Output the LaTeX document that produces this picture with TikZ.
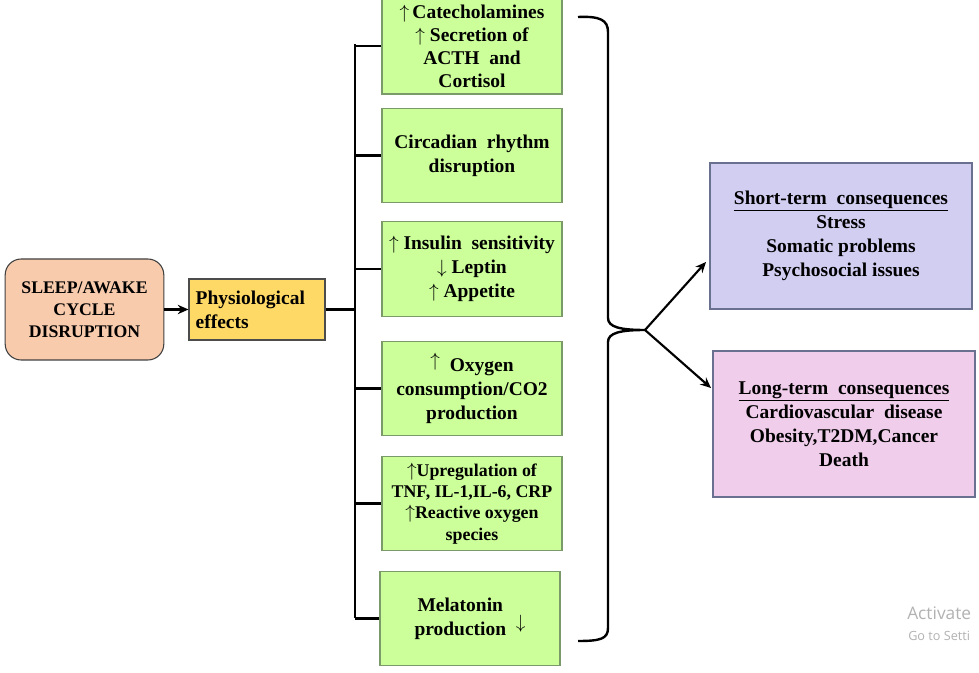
\documentclass[tikz,border=0pt]{standalone}
\usepackage{fontspec}
\setmainfont{Liberation Serif}
\newfontfamily\wmfont{Open Sans}
\usetikzlibrary{arrows.meta}
\definecolor{peach}{HTML}{F8CBAD}
\definecolor{physyel}{HTML}{FFD966}
\definecolor{lgreen}{HTML}{CCFF99}
\definecolor{gborder}{HTML}{7A9A6A}
\definecolor{lav}{HTML}{D2CEF2}
\definecolor{pinkc}{HTML}{F0CDEB}
\definecolor{rborder}{HTML}{6A7090}
\newcommand{\myup}{$\uparrow$}
\newcommand{\mydown}{$\downarrow$}
\tikzset{
  txt/.style={font=\bfseries\fontsize{14.6}{18}\selectfont, align=center},
  greenbox/.style={txt, draw=gborder, line width=0.8pt, fill=lgreen, minimum width=135pt, minimum height=71pt, inner sep=2pt},
  sleepbox/.style={draw=black!75, line width=0.8pt, fill=peach, rounded corners=12pt, minimum width=119pt, minimum height=75.75pt, align=center, font=\bfseries\fontsize{13.3}{16.5}\selectfont},
  physbox/.style={draw=black!70, line width=0.8pt, fill=physyel, minimum width=102pt, minimum height=45.75pt, text width=92pt, align=left, font=\bfseries\fontsize{14.6}{18}\selectfont},
  resbox/.style={txt, draw=rborder, line width=0.8pt, minimum width=196.5pt, minimum height=109.5pt},
  bus/.style={line width=1.6pt, black},
  arr/.style={line width=1.6pt, -{Stealth[length=8pt,width=7pt]}}
}
\begin{document}
\begin{tikzpicture}[x=0.75pt,y=-0.75pt]
\clip (0,0) rectangle (979,673);
\fill[white] (0,0) rectangle (979,673);

\node[sleepbox] (sleep) at (84.5,309.5) {SLEEP/AWAKE\\CYCLE\\DISRUPTION};
\node[physbox] (phys) at (257,309.5) {Physiological\\effects};

\node[greenbox, minimum height=72pt, font=\bfseries\fontsize{14.6}{17.2}\selectfont] (g1) at (472,46) {\myup\,Catecholamines\\\myup\ Secretion of\\ACTH\ \ and\\Cortisol};
\node[greenbox] (g2) at (472,155.5) {Circadian\ \ rhythm\\disruption};
\node[greenbox] (g3) at (472,269) {\myup\ Insulin\ \ sensitivity\\\mydown\ Leptin\\\myup\ Appetite};
\node[greenbox] (g4) at (472,388.5) {\raisebox{4pt}{\myup}\ \ Oxygen\\consumption/CO2\\production};
\node[greenbox, font=\bfseries\fontsize{13.4}{16}\selectfont] (g5) at (472,503.5) {\myup Upregulation of\\TNF, IL-1,IL-6, CRP\\\myup Reactive oxygen\\species};
\node[greenbox] (g6) at (470,618.5) {Melatonin\ \ \ \ \ \\production\ \ \raisebox{5pt}{\mydown}};

\coordinate (bt) at (355,44);
\coordinate (bb) at (355,618.5);
\draw[arr] (sleep.east) -- (phys.west);
\draw[bus] (bt) -- (bb);
\draw[bus] (phys.east) -- (phys.east -| bt);
\foreach \g in {g1,g2,g3,g4,g5,g6} {\draw[bus] (\g.west -| bt) -- (\g.west);}

% brace
\coordinate (tip) at (645,330);
\draw[line width=1.8pt] (578,17) .. controls (600,16) and (608,20) .. (608,32) -- (608,318)
  .. controls (608,327) and (620,330) .. (tip)
  .. controls (620,330) and (608,333) .. (608,342) -- (608,628)
  .. controls (608,639) and (600,641) .. (578,641);

\node[resbox, fill=lav] (short) at (841,236) {\underline{Short-term\ \ consequences}\\Stress\\Somatic problems\\Psychosocial issues};
\node[resbox, fill=pinkc] (long) at (844,424) {\underline{Long-term\ \ consequences}\\Cardiovascular\ \ disease\\Obesity,T2DM,Cancer\\Death};

\coordinate (s1) at (706,262);
\coordinate (l1) at (711,388);
\draw[arr] (tip) -- (s1);
\draw[arr] (tip) -- (l1);

\node[anchor=west, text=black!30, font=\wmfont\fontsize{13}{15}\selectfont, inner sep=0pt] (wm1) at (907,613) {Activate};
\node[anchor=west, text=black!30, font=\wmfont\fontsize{9.5}{12}\selectfont, inner sep=0pt] (wm2) at (908,636) {Go to Setti};
\end{tikzpicture}
\end{document}
